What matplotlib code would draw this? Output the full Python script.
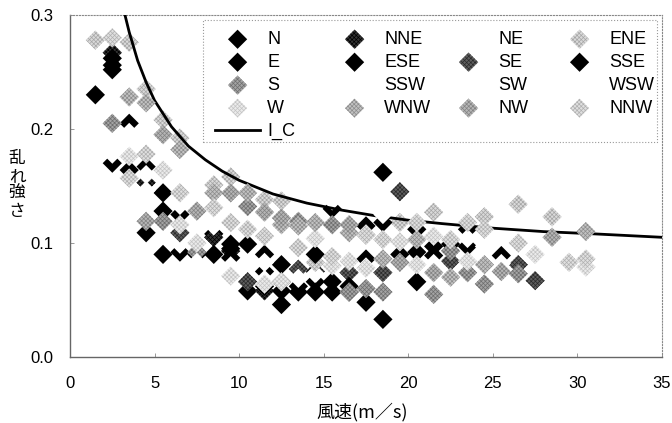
import matplotlib
matplotlib.use("Agg")
import matplotlib.pyplot as plt
from matplotlib.lines import Line2D
from matplotlib.patches import Rectangle

plt.rcParams['font.family'] = ['Liberation Sans', 'Noto Sans CJK JP', 'DejaVu Sans']
plt.rcParams['hatch.linewidth'] = 0.5

# 風向別の乱れ強さ (風速ビン中央値, 乱れ強さ)
n_x = [1.5, 2.5, 3.5, 4.5, 5.5, 6.5, 7.5, 8.5, 9.5, 10.5, 11.5, 12.5, 13.5, 14.5, 15.5, 16.5, 17.5, 18.5]
n_y = [0.230, 0.256, 0.205, 0.109, 0.144, 0.092, 0.090, 0.108, 0.099, 0.058, 0.075, 0.046, 0.057, 0.066, 0.057, 0.057, 0.048, 0.033]
nne_x = [2.5, 4.5, 8.5, 9.5, 11.5, 14.5]
nne_y = [0.267, 0.153, 0.105, 0.093, 0.058, 0.075]
ne_x = [3.5, 4.5, 6.5, 8.5, 11.5, 14.5]
ne_y = [0.197, 0.146, 0.099, 0.115, 0.068, 0.073]
ene_x = [1.5, 3.5, 4.5, 5.5, 6.5, 8.5, 9.5, 11.5, 12.5, 14.5, 19.5, 21.5, 24.5, 26.5, 28.5]
ene_y = [0.278, 0.276, 0.235, 0.208, 0.192, 0.151, 0.158, 0.138, 0.137, 0.083, 0.118, 0.127, 0.123, 0.134, 0.123]
e_x = [2.5, 3.5, 4.5, 5.5, 6.5, 9.5, 10.5, 11.5, 12.5, 14.5, 15.5, 17.5, 18.5, 20.5, 21.5, 23.5, 25.5]
e_y = [0.262, 0.164, 0.167, 0.128, 0.125, 0.087, 0.099, 0.090, 0.058, 0.090, 0.130, 0.115, 0.118, 0.092, 0.097, 0.097, 0.089]
ese_x = [2.5, 5.5, 8.5, 12.5, 13.5, 14.5, 15.5, 17.5, 18.5, 20.5, 21.5, 23.5]
ese_y = [0.252, 0.090, 0.090, 0.081, 0.062, 0.057, 0.066, 0.086, 0.162, 0.066, 0.089, 0.112]
se_x = [6.5, 10.5, 13.5, 16.5, 18.5, 19.5, 22.5, 26.5, 27.5]
se_y = [0.109, 0.066, 0.077, 0.074, 0.074, 0.145, 0.084, 0.081, 0.067]
sse_x = [2.5, 9.5, 11.5, 12.5, 16.5, 19.5, 20.5, 22.5]
sse_y = [0.170, 0.095, 0.062, 0.066, 0.062, 0.090, 0.112, 0.099]
s_x = [2.5, 5.5, 7.5, 10.5, 13.5, 15.5, 16.5, 17.5, 18.5, 21.5, 22.5, 23.5, 24.5, 26.5]
s_y = [0.205, 0.119, 0.092, 0.132, 0.119, 0.116, 0.057, 0.060, 0.057, 0.055, 0.093, 0.074, 0.064, 0.073]
ssw_x = [4.5, 6.5, 7.5, 11.5, 17.5, 20.5]
ssw_y = [0.160, 0.133, 0.083, 0.083, 0.108, 0.119]
sw_x = [9.5, 15.5, 17.5, 21.5, 23.5, 25.5]
sw_y = [0.080, 0.137, 0.079, 0.082, 0.104, 0.082]
wsw_x = [2.5, 13.5, 18.5, 22.5, 24.5]
wsw_y = [0.178, 0.069, 0.125, 0.106, 0.097]
w_x = [3.5, 5.5, 6.5, 7.5, 9.5, 11.5, 12.5, 14.5, 15.5, 16.5, 17.5, 19.5, 20.5, 21.5, 23.5, 27.5, 30.5]
w_y = [0.176, 0.164, 0.116, 0.100, 0.071, 0.064, 0.066, 0.104, 0.080, 0.084, 0.078, 0.101, 0.081, 0.106, 0.084, 0.090, 0.079]
wnw_x = [3.5, 4.5, 6.5, 8.5, 10.5, 12.5, 13.5, 14.5, 16.5, 18.5, 20.5, 22.5, 24.5, 30.5]
wnw_y = [0.228, 0.223, 0.182, 0.144, 0.144, 0.116, 0.115, 0.118, 0.109, 0.086, 0.103, 0.070, 0.081, 0.110]
nw_x = [4.5, 5.5, 7.5, 9.5, 11.5, 12.5, 16.5, 17.5, 19.5, 21.5, 25.5, 28.5]
nw_y = [0.119, 0.195, 0.128, 0.144, 0.127, 0.122, 0.116, 0.107, 0.083, 0.074, 0.075, 0.105]
nnw_x = [2.5, 3.5, 4.5, 6.5, 8.5, 9.5, 10.5, 11.5, 13.5, 15.5, 17.5, 18.5, 20.5, 22.5, 23.5, 24.5, 26.5, 29.5, 30.5]
nnw_y = [0.280, 0.157, 0.178, 0.144, 0.131, 0.118, 0.112, 0.106, 0.096, 0.088, 0.107, 0.103, 0.118, 0.103, 0.118, 0.112, 0.100, 0.083, 0.086]

# I_C 曲線
ic_x = [3.25, 3.5, 4, 4.5, 5, 6, 7, 8, 9, 10, 12, 14, 16, 18, 20, 22, 25, 28, 31, 35]
ic_y = [0.300, 0.285, 0.260, 0.241, 0.225, 0.202, 0.185, 0.173, 0.163, 0.155, 0.143, 0.135, 0.129, 0.124,
        0.120, 0.117, 0.113, 0.110, 0.108, 0.105]

# (名前, x, y, 塗り色, 網点の色)
series = [
    ('N', n_x, n_y, '#000000', None),
    ('NNE', nne_x, nne_y, '#333333', '#000000'),
    ('NE', ne_x, ne_y, '#ffffff', None),
    ('ENE', ene_x, ene_y, '#dadada', '#a6a6a6'),
    ('E', e_x, e_y, '#000000', None),
    ('ESE', ese_x, ese_y, '#000000', None),
    ('SE', se_x, se_y, '#5e5e5e', '#2a2a2a'),
    ('SSE', sse_x, sse_y, '#000000', None),
    ('S', s_x, s_y, '#a4a4a4', '#6e6e6e'),
    ('SSW', ssw_x, ssw_y, '#ffffff', None),
    ('SW', sw_x, sw_y, '#ffffff', None),
    ('WSW', wsw_x, wsw_y, '#ffffff', None),
    ('W', w_x, w_y, '#ebebeb', '#c4c4c4'),
    ('WNW', wnw_x, wnw_y, '#c2c2c2', '#8c8c8c'),
    ('NW', nw_x, nw_y, '#b6b6b6', '#828282'),
    ('NNW', nnw_x, nnw_y, '#e0e0e0', '#b0b0b0'),
]

MS = 9.8
HATCH = 'xxxxxxxx'

fig = plt.figure(figsize=(6.72, 4.23), dpi=100)
ax = fig.add_axes([70 / 672, 1 - 357 / 423, 592 / 672, 342 / 423])

handles = {}
for i, (name, xs, ys, col, hcol) in enumerate(series):
    kw = dict(marker='D', s=MS ** 2, facecolor=col, linewidths=0)
    if hcol is None:
        kw['edgecolor'] = 'none'
    else:
        kw['edgecolor'] = hcol
        kw['hatch'] = HATCH
    ax.scatter(xs, ys, zorder=3 + i * 0.01, **kw)
    handles[name] = ax.scatter([], [], **kw)

ax.plot(ic_x, ic_y, color='black', lw=2.0, zorder=3.1)
handles['I_C'] = Line2D([], [], color='black', lw=2.0)

ax.set_xlim(0, 35)
ax.set_ylim(0, 0.3)
ax.set_xticks(range(0, 36, 5))
ax.set_yticks([0.0, 0.1, 0.2, 0.3])
ax.set_yticklabels(['0.0', '0.1', '0.2', '0.3'])
ax.tick_params(axis='both', direction='in', length=3, width=0.6, color='#888888', labelsize=12)
ax.tick_params(axis='x', pad=14)
ax.tick_params(axis='y', pad=12)

for side in ['left', 'bottom']:
    ax.spines[side].set_color('#666666')
    ax.spines[side].set_linewidth(1.0)
for side in ['top', 'right']:
    ax.spines[side].set_color('#888888')
    ax.spines[side].set_linewidth(0.8)
    ax.spines[side].set_linestyle(':')

fig.text(362 / 672, 1 - 412 / 423, '風速(m／s)', ha='center', va='center', fontsize=13,
         family=['Noto Sans CJK JP'])
fig.text(17 / 672, 1 - 185 / 423, '乱\nれ\n強\nさ', ha='center', va='center', fontsize=12,
         linespacing=1.05, family=['Noto Sans CJK JP'])

# 凡例 (Excel風に列幅を揃えるため列ごとに配置)
columns = [
    ['N', 'E', 'S', 'W', 'I_C'],
    ['NNE', 'ESE', 'SSW', 'WNW'],
    ['NE', 'SE', 'SW', 'NW'],
    ['ENE', 'SSE', 'WSW', 'NNW'],
]
col_left = [215, 332, 446, 557]
for names, left in zip(columns, col_left):
    fig.legend([handles[k] for k in names], names, loc='upper left',
               bbox_to_anchor=(left / 672, 1 - 31 / 423), bbox_transform=fig.transFigure,
               frameon=False, borderpad=0, borderaxespad=0, handlelength=2.5,
               handletextpad=0.4, labelspacing=0.33, fontsize=13, scatterpoints=1)

fig.patches.append(Rectangle((203 / 672, 1 - 142 / 423), 454 / 672, 122 / 423,
                             transform=fig.transFigure, fill=False, edgecolor='#999999',
                             lw=0.8, linestyle=':', zorder=1))

fig.savefig('out.png', dpi=100)
